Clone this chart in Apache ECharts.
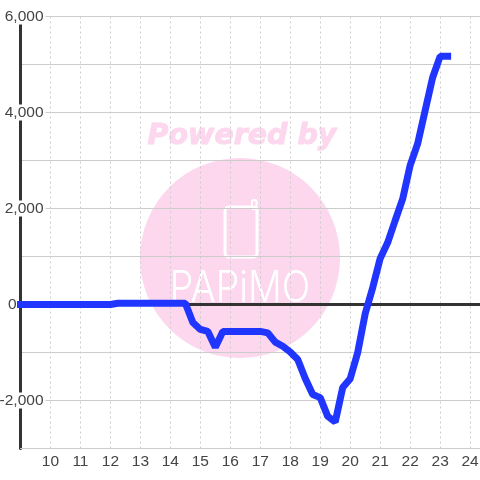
<!DOCTYPE html>
<html><head><meta charset="utf-8">
<style>html,body{margin:0;padding:0;background:#fff}#c{width:480px;height:480px}</style>
<script src="https://cdn.jsdelivr.net/npm/echarts@6/dist/echarts.min.js"></script>
</head><body><div id="c"></div>
<script>
const hours = [9,9.25,9.5,9.75,10,10.25,10.5,10.75,11,11.25,11.5,11.75,12,12.25,12.5,12.75,13,13.25,13.5,13.75,14,14.25,14.5,14.75,15,15.25,15.5,15.75,16,16.25,16.5,16.75,17,17.25,17.5,17.75,18,18.25,18.5,18.75,19,19.25,19.5,19.75,20,20.25,20.5,20.75,21,21.25,21.5,21.75,22,22.25,22.5,22.75,23,23.25];
const values = [0,0,0,0,0,0,0,0,0,0,0,0,0,25,25,25,25,25,25,25,25,25,25,-375,-520,-560,-890,-560,-560,-560,-560,-560,-560,-590,-785,-870,-990,-1145,-1540,-1875,-1940,-2330,-2450,-1730,-1545,-1000,-190,350,960,1290,1750,2200,2900,3350,4040,4730,5170,5170];
const yTickLabels = [6000,4000,2000,0,-2000];
const chart = echarts.init(document.getElementById('c'),null,{renderer:'canvas'});
const pink = '#fcd7ee';
const labelFont = {color:'#444',fontSize:15.5,fontFamily:'Liberation Sans'};
chart.setOption({
  animation:false,
  backgroundColor:'#fff',
  grid:{left:20.5,right:0,top:16.5,bottom:31.5,containLabel:false,outerBoundsMode:'none'},
  xAxis:[{
    type:'value',min:9,max:24.33,interval:1,position:'bottom',
    axisLine:{onZero:false,lineStyle:{color:'#ccc',width:1}},
    axisTick:{show:false},
    axisLabel:Object.assign({margin:5,showMinLabel:false,showMaxLabel:false,
      formatter:v=>Number.isInteger(v)?String(v):''},labelFont),
    splitLine:{show:true,lineStyle:{color:'#ccc',type:[2,3],width:1}}
  },{
    type:'value',min:9,max:24.33,interval:1,position:'bottom',
    axisLine:{onZero:true,lineStyle:{color:'#333',width:3}},
    axisTick:{show:false},axisLabel:{show:false},splitLine:{show:false}
  }],
  yAxis:{
    type:'value',min:-3000,max:6000,interval:1000,
    axisLine:{show:true,onZero:false,lineStyle:{color:'#333',width:3}},
    axisTick:{show:false},
    axisLabel:Object.assign({inside:true,align:'right',margin:25,
      showMinLabel:true,showMaxLabel:true,
      rich:{
        r:Object.assign({backgroundColor:'#fff',padding:[0,2,0,4],lineHeight:16},labelFont),
        z:Object.assign({padding:[0,29,0,0],lineHeight:16},labelFont)
      },
      formatter:v=>!yTickLabels.includes(v)?'':(v===0?'{z|0}':'{r|'+v.toLocaleString('en-US')+'}')},labelFont),
    splitLine:{show:true,lineStyle:{color:'#ccc',width:1}}
  },
  graphic:[
    {type:'circle',z:-10,silent:true,shape:{cx:240,cy:258,r:100},style:{fill:pink}},
    {type:'text',z:-9,silent:true,x:242,y:137,style:{text:'Powered by',fill:pink,stroke:pink,lineWidth:1,font:'italic bold 28.5px "DejaVu Sans"',align:'center',verticalAlign:'middle'}},
    {type:'rect',z:-9,silent:true,shape:{x:225,y:207,width:32,height:50,r:4},style:{fill:'none',stroke:'#fff',lineWidth:3}},
    {type:'rect',z:-9,silent:true,shape:{x:252,y:200,width:4.5,height:9,r:2},style:{fill:'none',stroke:'#fff',lineWidth:2}},
    {type:'text',z:-9,silent:true,x:240,y:289,scaleY:1.15,style:{text:'PAPiMO',fill:'#fff',font:'300 37.5px Inter',align:'center',verticalAlign:'middle'}}
  ],
  series:[{
    type:'line',xAxisIndex:0,yAxisIndex:0,
    data:hours.map((h,i)=>[h,values[i]]),
    showSymbol:false,symbol:'none',clip:false,z:5,
    lineStyle:{color:'#2036ff',width:7,cap:'square',join:'bevel'}
  }]
});
</script></body></html>
